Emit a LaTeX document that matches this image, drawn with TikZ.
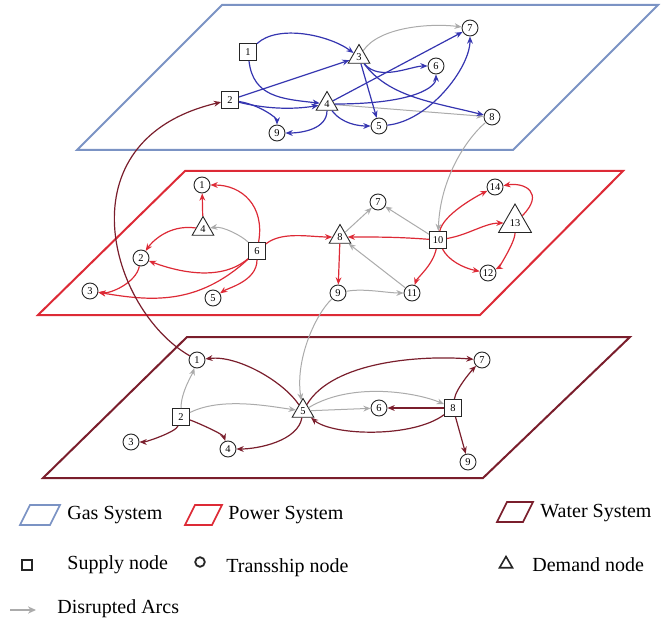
\documentclass[tikz,border=0pt]{standalone}
\usepackage{fontspec}
\setmainfont{Liberation Serif}
\usetikzlibrary{arrows.meta,shapes.geometric}
\definecolor{gasblue}{HTML}{3535B0}
\definecolor{gasframe}{HTML}{7B93C4}
\definecolor{powred}{HTML}{DD2A36}
\definecolor{watred}{HTML}{7A1E2C}
\definecolor{cut}{HTML}{ABABAB}
\tikzset{
  nd/.style={fill=white, draw=black!85, line width=0.45pt, inner sep=0pt,
             font=\fontsize{5.2}{5.5}\selectfont},
  circ/.style={nd, circle, minimum size=8pt},
  sq/.style={nd, rectangle, minimum size=8.5pt},
  tri/.style={nd, regular polygon, regular polygon sides=3, minimum size=12.5pt},
  arc/.style={line width=0.6pt, -{Stealth[length=3.6pt,width=2.9pt]}},
  gasarc/.style={arc, gasblue},
  powarc/.style={arc, powred},
  watarc/.style={arc, watred},
  cutarc/.style={arc, cut, line width=0.5pt},
  layer/.style={line width=1pt},
  legtext/.style={anchor=west, inner sep=1pt, font=\fontsize{10}{11}\selectfont},
  legkey/.style={draw=black!85, line width=0.9pt, inner sep=0pt},
}
\begin{document}
\begin{tikzpicture}[x=0.5pt, y=-0.5pt]
\useasboundingbox (0,0) rectangle (662,630);

% ---------- layer planes ----------
\draw[layer, gasframe] (222,5) -- (658,5) -- (513,150) -- (77,150) -- cycle;
\draw[layer, powred] (185,171) -- (623,171) -- (480,315) -- (38,315) -- cycle;
\draw[layer, watred] (187,337) -- (630,337) -- (483,478) -- (43,478) -- cycle;

% ---------- gas network ----------
\node[sq]   (g1) at (248,52)  {1};
\node[sq]   (g2) at (230,100) {2};
\node[tri]  (g3) at (359,57)  {3};
\node[tri]  (g4) at (327,104) {4};
\node[circ] (g5) at (379,126) {5};
\node[circ] (g6) at (436,66)  {6};
\node[circ] (g7) at (470,28)  {7};
\node[circ] (g8) at (492,117) {8};
\node[circ] (g9) at (277,133) {9};

\draw[cutarc] (g3) .. controls +(20,-30) and +(-40,-5) .. (g7);
\draw[cutarc] (g4) -- (g8);
\draw[gasarc] (g1) .. controls +(30,-28) and +(-30,-22) .. (g3);
\draw[gasarc] (g1) .. controls +(5,45) and +(-45,-5) .. (g4);
\draw[gasarc] (g2) -- (g3);
\draw[gasarc] (g2) .. controls +(40,10) and +(-30,5) .. (g4);
\draw[gasarc] (g2) .. controls +(30,5) and +(0,-15) .. (g9);
\draw[gasarc] (g4) .. controls +(0,25) and +(25,0) .. (g9);
\draw[gasarc] (g4) -- (g7);
\draw[gasarc] (g4) .. controls +(90,0) and +(0,20) .. (g6);
\draw[gasarc] (g4) .. controls +(15,20) and +(-20,0) .. (g5);
\draw[gasarc] (g3) -- (g5);
\draw[gasarc] (g3) .. controls +(20,25) and +(-25,0) .. (g6);
\draw[gasarc] (g3) .. controls +(30,40) and +(-60,-15) .. (g8);
\draw[gasarc] (g5) .. controls +(50,-5) and +(0,40) .. (g7);

% ---------- power network ----------
\node[circ] (p1)  at (202,185) {1};
\node[circ] (p2)  at (141,258) {2};
\node[circ] (p3)  at (90,291)  {3};
\node[tri]  (p4)  at (203,229) {4};
\node[circ] (p5)  at (213,298) {5};
\node[sq]   (p6)  at (257,251) {6};
\node[circ] (p7)  at (378,202) {7};
\node[tri]  (p8)  at (340,237) {8};
\node[circ] (p9)  at (338,293) {9};
\node[sq]   (p10) at (438,240) {10};
\node[circ] (p11) at (412,293) {11};
\node[circ] (p12) at (488,273) {12};
\node[tri, minimum size=19pt] (p13) at (515,223) {13};
\node[circ] (p14) at (495,187) {14};

\draw[cutarc] (p6) .. controls +(-15,-15) and +(20,-3) .. (p4);
\draw[cutarc] (p8) -- (p7);
\draw[cutarc] (p10) -- (p7);
\draw[cutarc] (p11) -- (p8);
\draw[cutarc] (p9) .. controls +(25,-5) and +(-25,0) .. (p11);
\draw[powarc] (p4) -- (p1);
\draw[powarc] (p6) .. controls +(8,-45) and +(40,0) .. (p1);
\draw[powarc] (p4) .. controls +(-35,-5) and +(10,-15) .. (p2);
\draw[powarc] (p6) .. controls +(-35,30) and +(40,15) .. (p2);
\draw[powarc] (p2) .. controls +(-5,25) and +(20,3) .. (p3);
\draw[powarc] (p6) .. controls +(-60,55) and +(60,10) .. (p3);
\draw[powarc] (p6) .. controls +(0,30) and +(15,-10) .. (p5);
\draw[powarc] (p6) .. controls +(25,-20) and +(-30,0) .. (p8);
\draw[powarc] (p10) .. controls +(-40,-3) and +(40,0) .. (p8);
\draw[powarc] (p8) -- (p9);
\draw[powarc] (p10) .. controls +(-5,25) and +(5,-15) .. (p11);
\draw[powarc] (p10) .. controls +(5,-25) and +(-20,10) .. (p14);
\draw[powarc] (p10) .. controls +(30,-5) and +(-30,0) .. (p13);
\draw[powarc] (p10) .. controls +(10,20) and +(-25,-5) .. (p12);
\draw[powarc] (p13) .. controls +(30,-30) and +(30,-5) .. (p14);
\draw[powarc] (p13) .. controls +(0,20) and +(10,-5) .. (p12);

% ---------- water network ----------
\node[circ] (w1) at (197,360) {1};
\node[sq]   (w2) at (181,417) {2};
\node[circ] (w3) at (131,442) {3};
\node[circ] (w4) at (228,449) {4};
\node[tri]  (w5) at (303,411) {5};
\node[circ] (w6) at (379,408) {6};
\node[circ] (w7) at (482,360) {7};
\node[sq]   (w8) at (453,408) {8};
\node[circ] (w9) at (468,462) {9};

\draw[cutarc] (w2) .. controls +(0,-25) and +(-5,15) .. (w1);
\draw[cutarc] (w2) .. controls +(40,-20) and +(-35,-5) .. (w5);
\draw[cutarc] (w5) .. controls +(50,-30) and +(-35,-15) .. (w8);
\draw[cutarc] (w5) -- (w6);
\draw[watarc] (w5) .. controls +(-20,-30) and +(40,-5) .. (w1);
\draw[watarc] (w5) .. controls +(-5,30) and +(30,0) .. (w4);
\draw[watarc] (w2) .. controls +(15,5) and +(-5,-15) .. (w4);
\draw[watarc] (w2) .. controls +(-5,15) and +(15,0) .. (w3);
\draw[watarc] (w5) .. controls +(30,-50) and +(-60,-5) .. (w7);
\draw[watarc] (w8) .. controls +(-30,0) and +(30,0) .. (w6);
\draw[watarc] (w8) .. controls +(-40,30) and +(30,25) .. (w5);
\draw[watarc] (w8) .. controls +(3,-20) and +(-8,8) .. (w7);
\draw[watarc] (w8) -- (w9);

% ---------- links between systems ----------
\draw[watarc] (w1) .. controls (110,310) and (60,140) .. (g2);
\draw[cutarc] (g8) .. controls (465,140) and (440,180) .. (p10);
\draw[cutarc] (p9) .. controls (315,315) and (295,360) .. (w5);

% ---------- legend ----------
\draw[line width=0.8pt, gasframe] (20,525) -- (50,525) -- (60,505) -- (30,505) -- cycle;
\node[legtext] (lgas) at (65,515) {Gas System};
\draw[line width=0.8pt, powred] (185,525) -- (212,525) -- (222,505) -- (195,505) -- cycle;
\node[legtext] (lpow) at (226,515) {Power System};
\draw[line width=0.8pt, watred] (497,522) -- (523,522) -- (533,502) -- (507,502) -- cycle;
\node[legtext] (lwat) at (538,513) {Water System};

\node[legkey, minimum size=5pt] (ksq) at (27,565) {};
\node[legtext] (lsup) at (65,565) {Supply node};
\node[legkey, circle, minimum size=4.8pt] (kci) at (200,562) {};
\node[legtext] (ltra) at (224,568) {Transship node};
\node[legkey, line width=0.8pt, regular polygon, regular polygon sides=3, minimum size=7.5pt] (ktr) at (506,564) {};
\node[legtext] (ldem) at (530,565) {Demand node};

\coordinate (ka) at (10,610);
\coordinate (kb) at (36,610);
\draw[cut, line width=1pt, -{Stealth[length=4pt,width=3.6pt]}] (ka) -- (kb);
\node[legtext] (ldis) at (55,609) {Disrupted Arcs};
\end{tikzpicture}
\end{document}
